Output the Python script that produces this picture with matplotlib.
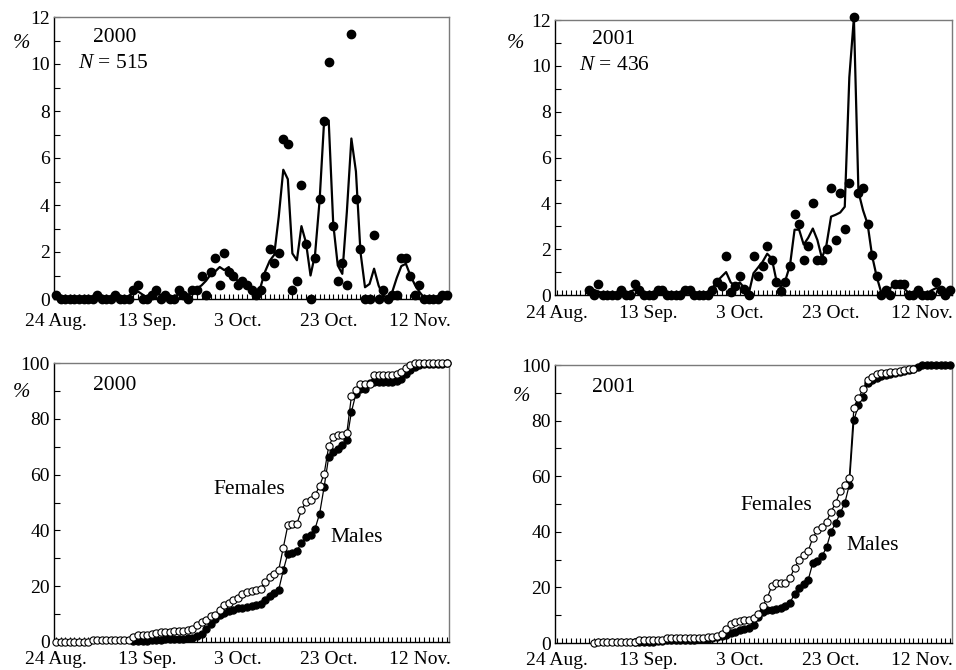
import numpy as np
import matplotlib
matplotlib.use("Agg")
import matplotlib.pyplot as plt
import matplotlib.transforms as mtransforms
from matplotlib.ticker import MultipleLocator

plt.rcParams['font.family'] = ['Liberation Serif', 'DejaVu Serif']
plt.rcParams['mathtext.fontset'] = 'custom'
plt.rcParams['mathtext.rm'] = 'Liberation Serif'
plt.rcParams['mathtext.it'] = 'Liberation Serif:italic'

nan = np.nan
days = np.arange(87)
date_ticks = [0, 20, 40, 60, 80]
date_labels = ["24 Aug.", "13 Sep.", "3 Oct.", "23 Oct.", "12 Nov."]

# ---- 2000 daily (%) ----
daily_2000 = [0.19, 0, 0, 0, 0, 0, 0, 0, 0, 0.19,
              0, 0, 0, 0.19, 0, 0, 0, 0.39, 0.58, 0,
              0, 0.19, 0.39, 0, 0.19, 0, 0, 0.39, 0.19, 0,
              0.39, 0.39, 0.97, 0.19, 1.17, 1.75, 0.58, 1.94, 1.17, 0.97,
              0.58, 0.78, 0.58, 0.39, 0.19, 0.39, 0.97, 2.14, 1.55, 1.94,
              6.80, 6.60, 0.39, 0.78, 4.85, 2.33, 0, 1.75, 4.27, 7.57,
              10.10, 3.11, 0.78, 1.55, 0.58, 11.26, 4.27, 2.14, 0, 0,
              2.72, 0, 0.39, 0, 0.19, 0.19, 1.75, 1.75, 0.97, 0.19,
              0.58, 0, 0, 0, 0, 0.19, 0.19]
line_2000 = [0.06, 0.06, 0, 0, 0, 0, 0, 0, 0.06, 0.06,
             0.06, 0, 0.06, 0.06, 0.06, 0, 0.13, 0.32, 0.32, 0.19,
             0.06, 0.19, 0.19, 0.19, 0.06, 0.06, 0.13, 0.19, 0.19, 0.19,
             0.26, 0.45, 0.58, 0.78, 1.04, 1.17, 1.36, 1.23, 1.36, 0.91,
             0.78, 0.65, 0.58, 0.39, 0.25, 0.52, 1.17, 1.62, 1.88, 3.50,
             5.50, 5.10, 1.94, 1.65, 3.10, 2.40, 1.00, 1.90, 4.20, 7.60,
             7.60, 3.20, 1.43, 1.07, 3.70, 6.83, 5.43, 2.00, 0.50, 0.64,
             1.29, 0.57, 0.14, 0.07, 0.30, 0.90, 1.40, 1.50, 1.00, 0.60,
             0.30, 0.06, 0, 0, 0.06, 0.13, 0.13]

# ---- 2001 daily (%) ----
daily_2001 = [nan, nan, nan, nan, nan, nan, nan, 0.23, 0, 0.46,
              0, 0, 0, 0, 0.23, 0, 0, 0.46, 0.23, 0,
              0, 0, 0.23, 0.23, 0, 0, 0, 0, 0.23, 0.23,
              0, 0, 0, 0, 0.23, 0.58, 0.40, 1.70, 0.15, 0.40,
              0.83, 0.25, 0, 1.70, 0.83, 1.28, 2.15, 1.53, 0.58, 0.18,
              0.58, 1.28, 3.53, 3.08, 1.53, 2.15, 4.00, 1.53, 1.53, 2.00,
              4.68, 2.40, 4.47, 2.87, 4.90, 12.15, 4.47, 4.68, 3.08, 1.73,
              0.83, 0, 0.23, 0, 0.46, 0.46, 0.46, 0, 0, 0.23,
              0, 0, 0, 0.58, 0.23, 0, 0.23]
line_2001 = [nan, nan, nan, nan, nan, nan, nan, 0.15, 0.23, 0.15,
             0.08, 0, 0, 0.08, 0.08, 0.08, 0.15, 0.23, 0.23, 0.08,
             0, 0.08, 0.15, 0.15, 0.08, 0, 0, 0.08, 0.15, 0.15,
             0.08, 0, 0.08, 0.15, 0.30, 0.60, 0.80, 1.00, 0.55, 0.40,
             0.55, 0.30, 0.10, 0.95, 1.20, 1.45, 1.80, 1.60, 0.65, 0.35,
             0.65, 1.30, 2.85, 2.85, 2.20, 2.50, 2.90, 2.40, 1.60, 2.20,
             3.42, 3.50, 3.60, 3.85, 9.50, 12.10, 4.50, 3.70, 3.10, 1.70,
             0.80, 0.10, 0.10, 0.30, 0.45, 0.45, 0.30, 0.08, 0.08, 0.08,
             0, 0.08, 0.20, 0.30, 0.27, 0.15, 0.10]

# ---- cumulative (%) 2000 ----
females_2000 = [0, 0, 0, 0, 0, 0, 0, 0, 0.6, 0.6,
                0.6, 0.6, 0.6, 0.6, 0.6, 0.6, 0.6, 1.8, 2.4, 2.4,
                2.4, 3.0, 3.4, 3.5, 3.6, 3.6, 3.8, 3.9, 4.0, 4.4,
                4.8, 6.0, 7.2, 8.0, 9.4, 9.8, 11.6, 13.1, 14.0, 14.9,
                15.9, 17.1, 17.9, 18.3, 18.6, 19.1, 21.5, 23.2, 24.5, 25.9,
                33.8, 41.8, 42.2, 42.4, 47.2, 50.2, 50.8, 52.6, 55.9, 60.3,
                70.1, 73.5, 74.1, 74.3, 74.9, 88.0, 90.4, 92.4, 92.4, 92.4,
                95.6, 95.6, 95.6, 95.6, 95.6, 96.0, 96.8, 98.2, 99.2, 100,
                100, 100, 100, 100, 100, 100, 100]
males_2000 = [nan, nan, nan, nan, nan, nan, nan, nan, nan, nan,
              nan, nan, nan, nan, nan, nan, nan, 0.2, 0.3, 0.4,
              0.5, 0.6, 0.7, 0.8, 0.9, 1.0, 1.0, 1.1, 1.2, 1.3,
              1.6, 2.0, 3.0, 4.8, 6.6, 8.4, 9.6, 10.4, 11.1, 11.6,
              12.1, 12.3, 12.5, 12.8, 13.1, 13.7, 15.2, 16.4, 17.5, 18.8,
              25.7, 31.7, 32.0, 32.6, 35.5, 37.8, 38.5, 40.6, 46.0, 55.6,
              66.3, 68.1, 69.3, 70.5, 72.3, 82.4, 89.0, 90.8, 90.8, 92.8,
              93.2, 93.2, 93.2, 93.2, 93.2, 93.5, 94.4, 96.2, 97.6, 98.6,
              99.2, 99.8, 99.8, 99.8, 99.8, 99.8, 100]

# ---- cumulative (%) 2001 ----
females_2001 = [nan, nan, nan, nan, nan, nan, nan, nan, 0, 0.2,
                0.5, 0.5, 0.5, 0.5, 0.5, 0.5, 0.5, 0.5, 1.1, 1.1,
                1.1, 1.1, 1.1, 1.1, 1.8, 1.8, 1.8, 1.8, 1.8, 1.8,
                1.8, 1.9, 1.9, 2.0, 2.0, 2.5, 3.1, 5.0, 6.8, 7.5,
                7.9, 8.1, 8.1, 8.9, 10.3, 13.3, 16.2, 20.4, 21.6, 21.6,
                21.6, 23.4, 27.0, 30.0, 31.8, 33.2, 37.8, 40.7, 41.9, 43.7,
                47.3, 50.3, 54.7, 56.9, 59.5, 84.6, 88.2, 91.3, 94.6, 95.8,
                96.6, 97.0, 97.2, 97.4, 97.6, 97.8, 98.2, 98.6, 98.6, nan,
                nan, nan, nan, nan, nan, nan, nan]
males_2001 = [nan, nan, nan, nan, nan, nan, nan, nan, nan, nan,
              nan, nan, nan, nan, nan, nan, nan, 0.3, 0.4, 0.5,
              0.5, 0.5, 0.6, 0.8, 0.9, 0.9, 0.9, 0.9, 1.0, 1.1,
              1.2, 1.3, 1.4, 1.6, 1.8, 2.1, 2.6, 3.0, 3.5, 4.0,
              4.5, 5.0, 5.4, 6.5, 9.5, 11.3, 11.7, 12.0, 12.2, 12.7,
              13.3, 14.5, 17.7, 19.8, 21.3, 22.8, 28.8, 29.6, 31.2, 34.4,
              40.1, 43.1, 46.7, 50.3, 56.9, 80.1, 85.6, 88.5, 93.4, 94.5,
              95.3, 96.0, 96.5, 96.8, 97.1, 97.4, 97.8, 98.2, 98.6, 99.4,
              100, 100, 100, 100, 100, 100, 100]

W, H = 956, 670
fig = plt.figure(figsize=(W / 100, H / 100), dpi=100)
lift = mtransforms.ScaledTranslation(0, 3 / 100, fig.dpi_scale_trans)


def add_ax(l, t, r, b):
    return fig.add_axes([l / W, 1 - b / H, (r - l) / W, (b - t) / H])


def style(ax, ymax, ymajor, yminor, xpad):
    ax.set_xlim(-0.5, 86.5)
    ax.set_ylim(0, ymax)
    for s in ['left', 'bottom']:
        ax.spines[s].set_color('black')
        ax.spines[s].set_linewidth(1.0)
    for s in ['top', 'right']:
        ax.spines[s].set_color('#7a7a7a')
        ax.spines[s].set_linewidth(1.0)
    ax.set_xticks(date_ticks)
    ax.set_xticklabels(date_labels)
    ax.xaxis.set_minor_locator(MultipleLocator(1))
    ax.yaxis.set_major_locator(MultipleLocator(ymajor))
    ax.yaxis.set_minor_locator(MultipleLocator(yminor))
    ax.tick_params(axis='both', which='both', direction='in', top=False, right=False,
                   labelsize=14, width=0.8, colors='black')
    ax.tick_params(axis='x', which='both', length=3.5, pad=xpad)
    ax.tick_params(axis='y', which='major', length=4, pad=3)
    ax.tick_params(axis='y', which='minor', length=4)
    # lift the "0" label slightly, as in the original
    fig.canvas.draw()
    lab0 = ax.yaxis.get_majorticklabels()[0]
    lab0.set_transform(lab0.get_transform() + lift)


def ftext(x, y, s, **kw):
    fig.text(x / W, 1 - y / H, s, ha='center', va='center', **kw)


def top_panel(ax, daily, line, xpad):
    ax.plot(days, line, color='black', lw=1.6, zorder=3, clip_on=False)
    ax.plot(days, daily, 'o', color='black', ms=6, zorder=4, clip_on=False)
    style(ax, 12, 2, 1, xpad)


def bottom_panel(ax, fem, mal, xpad):
    ax.plot(days, mal, '-o', color='black', lw=0.9, ms=5.2, mfc='black',
            mec='black', mew=0.8, zorder=3, clip_on=False)
    ax.plot(days, fem, '-o', color='black', lw=0.9, ms=5.2, mfc='white',
            mec='black', mew=0.8, zorder=4, clip_on=False)
    style(ax, 100, 20, 10, xpad)


ax1 = add_ax(54, 17, 449, 299)
top_panel(ax1, daily_2000, line_2000, 10)
ax2 = add_ax(555, 20, 952, 295)
top_panel(ax2, daily_2001, line_2001, 7.5)
ax3 = add_ax(54, 363, 449, 642)
bottom_panel(ax3, females_2000, males_2000, 6.5)
ax4 = add_ax(555, 365, 952, 643)
bottom_panel(ax4, females_2001, males_2001, 6.5)

fs = 15.5
ftext(22, 43, "%", fontsize=15, style='italic')
ftext(515, 43, "%", fontsize=15, style='italic')
ftext(21, 392, "%", fontsize=15, style='italic')
ftext(522, 397, "%", fontsize=15, style='italic')

ftext(115, 37, "2000", fontsize=fs)
ftext(113, 64, "$N$ = 515", fontsize=fs)
ftext(614, 39, "2001", fontsize=fs)
ftext(614, 66, "$N$ = 436", fontsize=fs)
ftext(115, 386, "2000", fontsize=fs)
ftext(614, 387, "2001", fontsize=fs)
ftext(249, 490, "Females", fontsize=fs)
ftext(357, 538, "Males", fontsize=fs)
ftext(776, 506, "Females", fontsize=fs)
ftext(873, 545, "Males", fontsize=fs)

fig.savefig("out.png", dpi=100)
